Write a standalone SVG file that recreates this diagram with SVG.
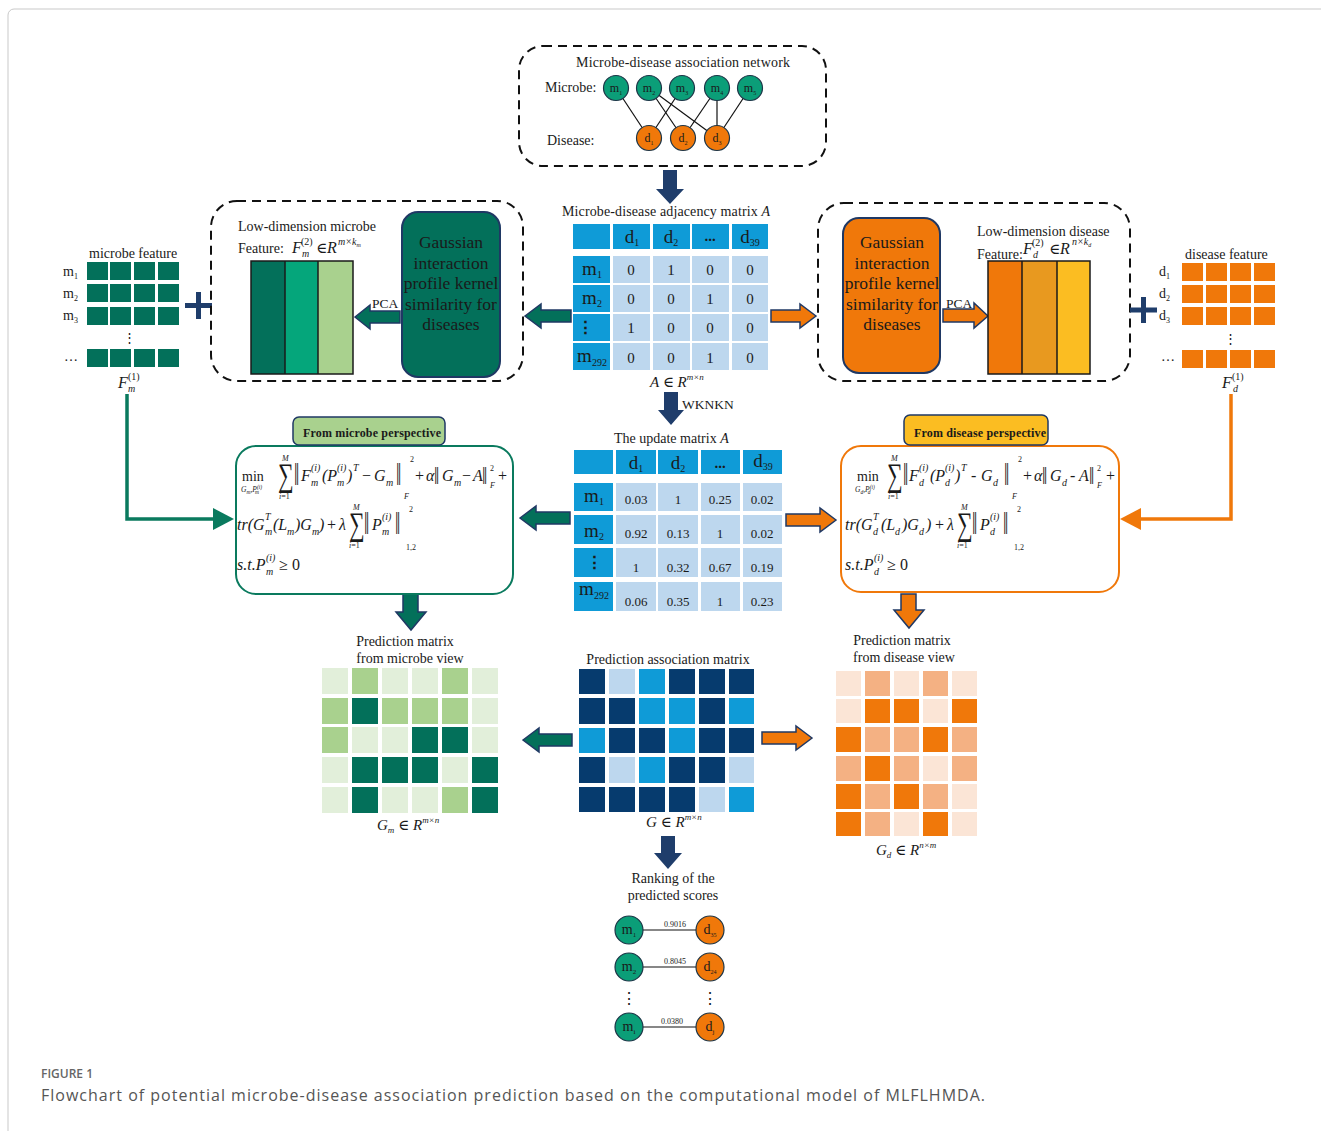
<svg xmlns="http://www.w3.org/2000/svg" width="1321" height="1131" viewBox="0 0 1321 1131">
<defs>
<style>
text{font-family:"Liberation Serif","Times New Roman","DejaVu Serif",serif;fill:#1a1a1a}
.it{font-style:italic}
.dash{fill:none;stroke:#111;stroke-width:2;stroke-dasharray:9 6}
.hb{fill:#0f9bd7}
.lb{fill:#bdd7ee}
.nv{fill:#063b6e}
.navy{fill:#1f3d6b}
.garr{fill:#03705a;stroke:#1f3864;stroke-width:1.5}
.oarr{fill:#f0780a;stroke:#1f3864;stroke-width:1.5}
.mc{fill:#0b9e78;stroke:#1d3547;stroke-width:1.2}
.dc{fill:#f0780a;stroke:#1d3547;stroke-width:1.2}
.edge{stroke:#111;stroke-width:1.2}
.gD{fill:#03705a}.gM{fill:#a9d18e}.gL{fill:#e2efda}
.oD{fill:#f0780a}.oM{fill:#f4b183}.oL{fill:#fbe5d6}
.fi{font-style:italic;font-size:16px}
.fu{font-size:16px}
.nb{font-size:19px}
.sp{font-style:italic;font-size:10px}
.su{font-style:normal;font-size:10px}
.tiny{font-size:8px}
.val{font-size:15px}
.v2{font-size:13px}
.lbl{font-size:14px}
.sg{font-size:22px}
.nm{font-size:17px}
.cap{font-family:"Open Sans","Noto Sans",sans-serif;fill:#555}
</style>
</defs>
<rect width="1321" height="1131" fill="#fff"/>
<rect x="8" y="9" width="1340" height="1140" rx="6" fill="none" stroke="#c9c9c9" stroke-width="1"/>

<!-- connectors -->
<g id="connectors">
  <!-- association network edges -->
  <line class="edge" x1="616" y1="88" x2="649" y2="138"/>
  <line class="edge" x1="682" y1="88" x2="649" y2="138"/>
  <line class="edge" x1="649" y1="88" x2="683" y2="138"/>
  <line class="edge" x1="649" y1="88" x2="717" y2="138"/>
  <line class="edge" x1="717" y1="88" x2="683" y2="138"/>
  <line class="edge" x1="717" y1="88" x2="717" y2="138"/>
  <line class="edge" x1="750" y1="88" x2="717" y2="138"/>
  <!-- navy down arrows -->
  <path class="navy" d="M663,170 L677,170 L677,189 L684,189 L670,204 L656,189 L663,189 Z"/>
  <path class="navy" d="M664,392 L678,392 L678,410 L684,410 L671,425 L658,410 L664,410 Z"/>
  <path class="navy" d="M661,836 L675,836 L675,853 L682,853 L668,869 L654,853 L661,853 Z"/>
  <!-- block arrows from adjacency matrix -->
  <path class="garr" d="M525,316 L541,304 L541,310 L571,310 L571,322 L541,322 L541,328 Z"/>
  <path class="oarr" d="M816,316 L800,304 L800,310 L771,310 L771,322 L800,322 L800,328 Z"/>
  <!-- PCA arrows -->
  <path class="garr" d="M355,317 L370,305 L370,311 L400,311 L400,323 L370,323 L370,329 Z"/>
  <path class="oarr" d="M988,316 L974,303 L974,309 L943,309 L943,322 L974,322 L974,328 Z"/>
  <!-- arrows from update matrix -->
  <path class="garr" d="M520,518 L536,506 L536,512 L570,512 L570,524 L536,524 L536,530 Z"/>
  <path class="oarr" d="M836,520 L820,508 L820,514 L786,514 L786,526 L820,526 L820,532 Z"/>
  <!-- arrows from prediction association matrix -->
  <path class="garr" d="M523,740 L539,728 L539,734 L572,734 L572,746 L539,746 L539,752 Z"/>
  <path class="oarr" d="M812,738 L796,726 L796,732 L762,732 L762,744 L796,744 L796,750 Z"/>
  <!-- down arrows under the objective boxes -->
  <path class="garr" d="M403,594 L418,594 L418,612 L426,612 L411,630 L396,612 L403,612 Z"/>
  <path class="oarr" d="M901,594 L916,594 L916,610 L924,610 L909,628 L894,610 L901,610 Z"/>
  <!-- feature connectors -->
  <polyline points="127,394 127,519 216,519" fill="none" stroke="#0a7a5e" stroke-width="3.5"/>
  <polygon points="234,519 213,508 213,530" fill="#0a7a5e"/>
  <polyline points="1231,394 1231,519 1138,519" fill="none" stroke="#f0780a" stroke-width="3.5"/>
  <polygon points="1120,519 1141,508 1141,530" fill="#f0780a"/>
  <!-- ranking links -->
  <line class="edge" x1="643" y1="930" x2="696" y2="930"/>
  <line class="edge" x1="643" y1="967" x2="696" y2="967"/>
  <line class="edge" x1="643" y1="1027" x2="696" y2="1027"/>
</g>

<!-- association network -->
<g id="network">
  <rect class="dash" x="519" y="46" width="307" height="120" rx="24"/>
  <text x="576" y="67" class="lbl" textLength="214">Microbe-disease association network</text>
  <text x="545" y="92" class="lbl">Microbe:</text>
  <text x="547" y="145" class="lbl">Disease:</text>
  <g font-size="12" text-anchor="middle">
    <circle class="mc" cx="616" cy="88" r="12.5"/><text x="616" y="92">m<tspan font-size="6" dy="3">1</tspan></text>
    <circle class="mc" cx="649" cy="88" r="12.5"/><text x="649" y="92">m<tspan font-size="6" dy="3">2</tspan></text>
    <circle class="mc" cx="682" cy="88" r="12.5"/><text x="682" y="92">m<tspan font-size="6" dy="3">3</tspan></text>
    <circle class="mc" cx="717" cy="88" r="12.5"/><text x="717" y="92">m<tspan font-size="6" dy="3">4</tspan></text>
    <circle class="mc" cx="750" cy="88" r="12.5"/><text x="750" y="92">m<tspan font-size="6" dy="3">5</tspan></text>
    <circle class="dc" cx="649" cy="138" r="12.5"/><text x="649" y="142">d<tspan font-size="6" dy="3">1</tspan></text>
    <circle class="dc" cx="683" cy="138" r="12.5"/><text x="683" y="142">d<tspan font-size="6" dy="3">2</tspan></text>
    <circle class="dc" cx="717" cy="138" r="12.5"/><text x="717" y="142">d<tspan font-size="6" dy="3">3</tspan></text>
  </g>
</g>

<!-- adjacency matrix -->
<g id="adjacency-matrix">
  <text x="562" y="216" class="lbl" textLength="208">Microbe-disease adjacency matrix <tspan class="it">A</tspan></text>
  <g class="hb">
    <rect x="573" y="224" width="37" height="25"/><rect x="613" y="224" width="37" height="25"/>
    <rect x="653" y="224" width="37" height="25"/><rect x="692" y="224" width="37" height="25"/>
    <rect x="732" y="224" width="36" height="25"/>
    <rect x="573" y="256" width="37" height="27"/><rect x="573" y="285" width="37" height="27"/>
    <rect x="573" y="314" width="37" height="27"/><rect x="573" y="343" width="37" height="27"/>
  </g>
  <g class="lb">
    <rect x="613" y="256" width="37" height="27"/><rect x="653" y="256" width="37" height="27"/><rect x="692" y="256" width="37" height="27"/><rect x="732" y="256" width="36" height="27"/>
    <rect x="613" y="285" width="37" height="27"/><rect x="653" y="285" width="37" height="27"/><rect x="692" y="285" width="37" height="27"/><rect x="732" y="285" width="36" height="27"/>
    <rect x="613" y="314" width="37" height="27"/><rect x="653" y="314" width="37" height="27"/><rect x="692" y="314" width="37" height="27"/><rect x="732" y="314" width="36" height="27"/>
    <rect x="613" y="343" width="37" height="27"/><rect x="653" y="343" width="37" height="27"/><rect x="692" y="343" width="37" height="27"/><rect x="732" y="343" width="36" height="27"/>
  </g>
  <g class="nb" text-anchor="middle">
    <text x="632" y="243">d<tspan font-size="10" dy="3">1</tspan></text>
    <text x="671" y="243">d<tspan font-size="10" dy="3">2</tspan></text>
    <text x="710" y="241" font-weight="bold" font-size="15">...</text>
    <text x="750" y="243">d<tspan font-size="10" dy="3">39</tspan></text>
    <text x="592" y="275">m<tspan font-size="10" dy="3">1</tspan></text>
    <text x="592" y="304">m<tspan font-size="10" dy="3">2</tspan></text>
    <text x="585" y="333" font-weight="bold" font-size="17">⋮</text>
    <text x="592" y="362">m<tspan font-size="10" dy="4">292</tspan></text>
  </g>
  <g class="val" text-anchor="middle">
    <text x="631" y="275">0</text><text x="671" y="275">1</text><text x="710" y="275">0</text><text x="750" y="275">0</text>
    <text x="631" y="304">0</text><text x="671" y="304">0</text><text x="710" y="304">1</text><text x="750" y="304">0</text>
    <text x="631" y="333">1</text><text x="671" y="333">0</text><text x="710" y="333">0</text><text x="750" y="333">0</text>
    <text x="631" y="363">0</text><text x="671" y="363">0</text><text x="710" y="363">1</text><text x="750" y="363">0</text>
  </g>
  <text x="650" y="387" class="it" font-size="15">A <tspan font-style="normal">∈</tspan> R<tspan font-size="9" dy="-7">m×n</tspan></text>
  <text x="682" y="409" font-size="13.5">WKNKN</text>
</g>

<!-- updated matrix -->
<g id="update-matrix">
  <text x="614" y="443" class="lbl">The update matrix <tspan class="it">A</tspan></text>
  <g class="hb">
    <rect x="574" y="450" width="39" height="24"/><rect x="616" y="450" width="40" height="24"/>
    <rect x="658" y="450" width="40" height="24"/><rect x="701" y="450" width="39" height="24"/>
    <rect x="743" y="450" width="39" height="24"/>
    <rect x="574" y="483" width="39" height="28"/><rect x="574" y="515" width="39" height="29"/>
    <rect x="574" y="548" width="39" height="29"/><rect x="574" y="582" width="39" height="29"/>
  </g>
  <g class="lb">
    <rect x="616" y="483" width="40" height="28"/><rect x="658" y="483" width="40" height="28"/><rect x="701" y="483" width="39" height="28"/><rect x="743" y="483" width="39" height="28"/>
    <rect x="616" y="515" width="40" height="29"/><rect x="658" y="515" width="40" height="29"/><rect x="701" y="515" width="39" height="29"/><rect x="743" y="515" width="39" height="29"/>
    <rect x="616" y="548" width="40" height="29"/><rect x="658" y="548" width="40" height="29"/><rect x="701" y="548" width="39" height="29"/><rect x="743" y="548" width="39" height="29"/>
    <rect x="616" y="582" width="40" height="29"/><rect x="658" y="582" width="40" height="29"/><rect x="701" y="582" width="39" height="29"/><rect x="743" y="582" width="39" height="29"/>
  </g>
  <g class="nb" text-anchor="middle">
    <text x="636" y="469">d<tspan font-size="10" dy="3">1</tspan></text>
    <text x="678" y="469">d<tspan font-size="10" dy="3">2</tspan></text>
    <text x="720" y="468" font-weight="bold" font-size="15">...</text>
    <text x="763" y="467">d<tspan font-size="10" dy="3">39</tspan></text>
    <text x="594" y="502">m<tspan font-size="10" dy="3">1</tspan></text>
    <text x="594" y="537">m<tspan font-size="10" dy="3">2</tspan></text>
    <text x="594" y="568" font-weight="bold" font-size="17">⋮</text>
    <text x="594" y="595">m<tspan font-size="10" dy="4">292</tspan></text>
  </g>
  <g class="v2" text-anchor="middle">
    <text x="636" y="504">0.03</text><text x="678" y="504">1</text><text x="720" y="504">0.25</text><text x="762" y="504">0.02</text>
    <text x="636" y="538">0.92</text><text x="678" y="538">0.13</text><text x="720" y="538">1</text><text x="762" y="538">0.02</text>
    <text x="636" y="572">1</text><text x="678" y="572">0.32</text><text x="720" y="572">0.67</text><text x="762" y="572">0.19</text>
    <text x="636" y="606">0.06</text><text x="678" y="606">0.35</text><text x="720" y="606">1</text><text x="762" y="606">0.23</text>
  </g>
</g>

<!-- microbe side: raw features and low-dimension features -->
<g id="microbe-feature">
  <text x="89" y="258" class="lbl">microbe feature</text>
  <g class="gD">
    <rect x="87" y="262" width="21" height="18"/><rect x="110" y="262" width="21" height="18"/><rect x="134" y="262" width="21" height="18"/><rect x="158" y="262" width="21" height="18"/>
    <rect x="87" y="284" width="21" height="18"/><rect x="110" y="284" width="21" height="18"/><rect x="134" y="284" width="21" height="18"/><rect x="158" y="284" width="21" height="18"/>
    <rect x="87" y="307" width="21" height="18"/><rect x="110" y="307" width="21" height="18"/><rect x="134" y="307" width="21" height="18"/><rect x="158" y="307" width="21" height="18"/>
    <rect x="87" y="349" width="21" height="18"/><rect x="110" y="349" width="21" height="18"/><rect x="134" y="349" width="21" height="18"/><rect x="158" y="349" width="21" height="18"/>
  </g>
  <g class="lbl">
    <text x="63" y="276">m<tspan font-size="8" dy="3">1</tspan></text>
    <text x="63" y="298">m<tspan font-size="8" dy="3">2</tspan></text>
    <text x="63" y="320">m<tspan font-size="8" dy="3">3</tspan></text>
    <text x="64" y="361">…</text>
    <text x="129" y="342" text-anchor="middle" font-size="13">⋮</text>
  </g>
  <text x="118" y="388" class="fi">F</text>
  <text x="128" y="380" class="su">(1)</text>
  <text x="128" y="392" class="sp">m</text>
  <path d="M185,305.5 H212 M198.5,292 V319" stroke="#1f3d6b" stroke-width="5"/>
</g>

<g id="microbe-low-dim">
  <rect class="dash" x="211" y="201" width="312" height="180" rx="26"/>
  <text x="238" y="231" class="lbl">Low-dimension microbe</text>
  <text x="238" y="253" class="lbl">Feature:</text>
  <text x="292" y="253" class="fi">F</text>
  <text x="301" y="245" class="su">(2)</text>
  <text x="302" y="257" class="sp">m</text>
  <text x="316" y="253" font-size="15">∈</text>
  <text x="327" y="253" class="fi">R</text>
  <text x="338" y="245" class="sp">m×k<tspan font-size="6" dy="2">m</tspan></text>
  <rect x="251" y="261" width="34" height="113" class="gD"/>
  <rect x="285" y="261" width="33" height="113" fill="#05a67b"/>
  <rect x="318" y="261" width="35" height="113" class="gM"/>
  <rect x="251" y="261" width="102" height="113" fill="none" stroke="#1a1a1a" stroke-width="1.5"/>
  <line x1="285" y1="261" x2="285" y2="374" stroke="#1a1a1a" stroke-width="1.5"/>
  <line x1="318" y1="261" x2="318" y2="374" stroke="#1a1a1a" stroke-width="1.5"/>
  <text x="372" y="308" font-size="13.5">PCA</text>
</g>

<g id="microbe-gip">
  <rect x="402" y="212" width="98" height="165" rx="16" fill="#03705a" stroke="#1f3864" stroke-width="2"/>
  <g font-size="17.5" text-anchor="middle">
    <text x="451" y="248">Gaussian</text>
    <text x="451" y="268.5">interaction</text>
    <text x="451" y="289">profile kernel</text>
    <text x="451" y="309.5">similarity for</text>
    <text x="451" y="330">diseases</text>
  </g>
</g>

<!-- disease side -->
<g id="disease-gip">
  <rect x="843" y="218" width="97" height="155" rx="16" fill="#f0780a" stroke="#1f3864" stroke-width="2"/>
  <g font-size="17.5" text-anchor="middle">
    <text x="892" y="248">Gaussian</text>
    <text x="892" y="268.5">interaction</text>
    <text x="892" y="289">profile kernel</text>
    <text x="892" y="309.5">similarity for</text>
    <text x="892" y="330">diseases</text>
  </g>
</g>

<g id="disease-low-dim">
  <rect class="dash" x="818" y="203" width="312" height="178" rx="26"/>
  <text x="977" y="236" class="lbl">Low-dimension disease</text>
  <text x="977" y="259" class="lbl">Feature:</text>
  <text x="1023" y="254" class="fi">F</text>
  <text x="1032" y="246" class="su">(2)</text>
  <text x="1033" y="258" class="sp">d</text>
  <text x="1049" y="254" font-size="15">∈</text>
  <text x="1060" y="254" class="fi">R</text>
  <text x="1072" y="245" class="sp">n×k<tspan font-size="6" dy="2">d</tspan></text>
  <rect x="988" y="261" width="34" height="113" class="oD"/>
  <rect x="1022" y="261" width="35" height="113" fill="#e8991f"/>
  <rect x="1057" y="261" width="33" height="113" fill="#fbbd22"/>
  <rect x="988" y="261" width="102" height="113" fill="none" stroke="#1a1a1a" stroke-width="1.5"/>
  <line x1="1022" y1="261" x2="1022" y2="374" stroke="#1a1a1a" stroke-width="1.5"/>
  <line x1="1057" y1="261" x2="1057" y2="374" stroke="#1a1a1a" stroke-width="1.5"/>
  <text x="946" y="308" font-size="13.5">PCA</text>
</g>

<g id="disease-feature">
  <text x="1185" y="259" class="lbl">disease feature</text>
  <g class="oD">
    <rect x="1182" y="263" width="21" height="18"/><rect x="1206" y="263" width="21" height="18"/><rect x="1230" y="263" width="21" height="18"/><rect x="1254" y="263" width="21" height="18"/>
    <rect x="1182" y="285" width="21" height="18"/><rect x="1206" y="285" width="21" height="18"/><rect x="1230" y="285" width="21" height="18"/><rect x="1254" y="285" width="21" height="18"/>
    <rect x="1182" y="307" width="21" height="18"/><rect x="1206" y="307" width="21" height="18"/><rect x="1230" y="307" width="21" height="18"/><rect x="1254" y="307" width="21" height="18"/>
    <rect x="1182" y="350" width="21" height="18"/><rect x="1206" y="350" width="21" height="18"/><rect x="1230" y="350" width="21" height="18"/><rect x="1254" y="350" width="21" height="18"/>
  </g>
  <g class="lbl">
    <text x="1159" y="276">d<tspan font-size="8" dy="3">1</tspan></text>
    <text x="1159" y="298">d<tspan font-size="8" dy="3">2</tspan></text>
    <text x="1159" y="320">d<tspan font-size="8" dy="3">3</tspan></text>
    <text x="1161" y="361">…</text>
    <text x="1230" y="343" text-anchor="middle" font-size="13">⋮</text>
  </g>
  <text x="1222" y="388" class="fi">F</text>
  <text x="1232" y="380" class="su">(1)</text>
  <text x="1233" y="392" class="sp">d</text>
  <path d="M1130,310 H1157 M1143.5,297 V323" stroke="#1f3d6b" stroke-width="5"/>
</g>

<!-- microbe-view objective -->
<g id="microbe-objective">
  <rect x="236" y="446" width="277" height="148" rx="20" fill="#fff" stroke="#0a7a5e" stroke-width="2"/>
  <rect x="293" y="417" width="152" height="28" rx="6" fill="#a9d18e" stroke="#1f3864" stroke-width="1.5"/>
  <text x="303" y="437" font-size="12" font-weight="bold" textLength="138">From microbe perspective</text>
  <text x="242" y="481" font-size="14">min</text>
  <text x="241" y="492" font-size="7.5" class="it">G<tspan font-size="5.5" dy="1.5">m</tspan><tspan dy="-1.5">,P</tspan><tspan font-size="5.5" dy="-3">(i)</tspan><tspan font-size="5.5" dx="-7" dy="5">m</tspan></text>
  <text class="sg" transform="translate(278,486) scale(1,1.5)">∑</text>
  <text x="282" y="461" class="tiny it">M</text>
  <text x="279" y="499" class="tiny"><tspan class="it">i</tspan>=1</text>
  <text class="nm" transform="translate(294,485) scale(1.1,1.8)">‖</text>
  <text x="301" y="481" class="fi">F</text>
  <text x="311" y="471" class="sp">(i)</text><text x="311" y="486" class="sp">m</text>
  <text x="322" y="481" class="fi">(P</text>
  <text x="337" y="471" class="sp">(i)</text><text x="337" y="486" class="sp">m</text>
  <text x="347" y="481" class="fi">)</text>
  <text x="353" y="471" class="sp">T</text>
  <text x="362" y="481" class="fu">−</text>
  <text x="374" y="481" class="fi">G</text>
  <text x="386" y="486" class="sp">m</text>
  <text class="nm" transform="translate(396,485) scale(1.1,1.8)">‖</text>
  <text x="410" y="462" class="tiny">2</text>
  <text x="404" y="499" class="tiny it">F</text>
  <text x="415" y="481" class="fu">+</text>
  <text x="426" y="481" class="fi">α</text>
  <text class="nm" transform="translate(434,484) scale(1.1,1.45)">‖</text>
  <text x="442" y="481" class="fi">G</text>
  <text x="454" y="486" class="sp">m</text>
  <text x="462" y="481" class="fu">−</text>
  <text x="473" y="481" class="fi">A</text>
  <text class="nm" transform="translate(482,484) scale(1.1,1.45)">‖</text>
  <text x="490" y="471" class="tiny">2</text>
  <text x="490" y="488" class="tiny it">F</text>
  <text x="498" y="481" class="fu">+</text>

  <text x="237" y="530" class="fi">tr(G</text>
  <text x="265" y="520" class="sp">T</text><text x="265" y="535" class="sp">m</text>
  <text x="273" y="530" class="fi">(L</text>
  <text x="287" y="535" class="sp">m</text>
  <text x="295" y="530" class="fi">)G</text>
  <text x="312" y="535" class="sp">m</text>
  <text x="319" y="530" class="fi">)</text>
  <text x="327" y="530" class="fu">+</text>
  <text x="339" y="530" class="fi">λ</text>
  <text class="sg" transform="translate(349,535) scale(1,1.5)">∑</text>
  <text x="353" y="510" class="tiny it">M</text>
  <text x="349" y="548" class="tiny"><tspan class="it">i</tspan>=1</text>
  <text class="nm" transform="translate(364,534) scale(1.1,1.8)">‖</text>
  <text x="372" y="530" class="fi">P</text>
  <text x="382" y="520" class="sp">(i)</text><text x="382" y="535" class="sp">m</text>
  <text class="nm" transform="translate(395,534) scale(1.1,1.8)">‖</text>
  <text x="409" y="512" class="tiny">2</text>
  <text x="406" y="550" class="tiny">1,2</text>

  <text x="237" y="570" class="fi">s.t.P</text>
  <text x="266" y="561" class="sp">(i)</text><text x="266" y="575" class="sp">m</text>
  <text x="279" y="570" class="fu">≥</text>
  <text x="292" y="570" class="fu">0</text>
</g>

<!-- disease-view objective -->
<g id="disease-objective">
  <rect x="841" y="446" width="278" height="146" rx="20" fill="#fff" stroke="#f0780a" stroke-width="2"/>
  <rect x="904" y="415" width="144" height="30" rx="6" fill="#fbbd22" stroke="#1f3864" stroke-width="1.5"/>
  <text x="914" y="437" font-size="12" font-weight="bold" textLength="132">From disease perspective</text>
  <text x="857" y="481" font-size="14">min</text>
  <text x="855" y="492" font-size="7.5" class="it">G<tspan font-size="5.5" dy="1.5">d</tspan><tspan dy="-1.5">,P</tspan><tspan font-size="5.5" dy="-3">(i)</tspan><tspan font-size="5.5" dx="-7" dy="5">d</tspan></text>
  <g transform="translate(608,0)">
    <text class="sg" transform="translate(279,486) scale(1,1.5)">∑</text>
    <text x="283" y="461" class="tiny it">M</text>
    <text x="280" y="499" class="tiny"><tspan class="it">i</tspan>=1</text>
    <text class="nm" transform="translate(295,485) scale(1.1,1.8)">‖</text>
    <text x="301" y="481" class="fi">F</text>
    <text x="311" y="471" class="sp">(i)</text><text x="311" y="486" class="sp">d</text>
    <text x="322" y="481" class="fi">(P</text>
    <text x="337" y="471" class="sp">(i)</text><text x="337" y="486" class="sp">d</text>
    <text x="347" y="481" class="fi">)</text>
    <text x="353" y="471" class="sp">T</text>
    <text x="363" y="481" class="fu">-</text>
    <text x="373" y="481" class="fi">G</text>
    <text x="385" y="486" class="sp">d</text>
    <text class="nm" transform="translate(396,485) scale(1.1,1.8)">‖</text>
    <text x="410" y="462" class="tiny">2</text>
    <text x="404" y="499" class="tiny it">F</text>
    <text x="415" y="481" class="fu">+</text>
    <text x="426" y="481" class="fi">α</text>
    <text class="nm" transform="translate(434,484) scale(1.1,1.45)">‖</text>
    <text x="442" y="481" class="fi">G</text>
    <text x="454" y="486" class="sp">d</text>
    <text x="462" y="481" class="fu">-</text>
    <text x="471" y="481" class="fi">A</text>
    <text class="nm" transform="translate(481,484) scale(1.1,1.45)">‖</text>
    <text x="489" y="471" class="tiny">2</text>
    <text x="489" y="488" class="tiny it">F</text>
    <text x="498" y="481" class="fu">+</text>

    <text x="237" y="530" class="fi">tr(G</text>
    <text x="265" y="520" class="sp">T</text><text x="265" y="535" class="sp">d</text>
    <text x="273" y="530" class="fi">(L</text>
    <text x="287" y="535" class="sp">d</text>
    <text x="294" y="530" class="fi">)G</text>
    <text x="311" y="535" class="sp">d</text>
    <text x="318" y="530" class="fi">)</text>
    <text x="327" y="530" class="fu">+</text>
    <text x="339" y="530" class="fi">λ</text>
    <text class="sg" transform="translate(349,535) scale(1,1.5)">∑</text>
    <text x="353" y="510" class="tiny it">M</text>
    <text x="349" y="548" class="tiny"><tspan class="it">i</tspan>=1</text>
    <text class="nm" transform="translate(364,534) scale(1.1,1.8)">‖</text>
    <text x="372" y="530" class="fi">P</text>
    <text x="382" y="520" class="sp">(i)</text><text x="382" y="535" class="sp">d</text>
    <text class="nm" transform="translate(395,534) scale(1.1,1.8)">‖</text>
    <text x="409" y="512" class="tiny">2</text>
    <text x="406" y="550" class="tiny">1,2</text>

    <text x="237" y="570" class="fi">s.t.P</text>
    <text x="266" y="561" class="sp">(i)</text><text x="266" y="575" class="sp">d</text>
    <text x="279" y="570" class="fu">≥</text>
    <text x="292" y="570" class="fu">0</text>
  </g>
</g>

<!-- prediction matrix, microbe view -->
<g id="prediction-microbe">
  <text x="405" y="646" class="lbl" text-anchor="middle">Prediction matrix</text>
  <text x="410" y="663" class="lbl" text-anchor="middle">from microbe view</text>
  <rect class="gL" x="322" y="668" width="26" height="26"/><rect class="gM" x="352" y="668" width="26" height="26"/><rect class="gL" x="382" y="668" width="26" height="26"/><rect class="gL" x="412" y="668" width="26" height="26"/><rect class="gM" x="442" y="668" width="26" height="26"/><rect class="gL" x="472" y="668" width="26" height="26"/>
  <rect class="gM" x="322" y="698" width="26" height="26"/><rect class="gD" x="352" y="698" width="26" height="26"/><rect class="gM" x="382" y="698" width="26" height="26"/><rect class="gM" x="412" y="698" width="26" height="26"/><rect class="gM" x="442" y="698" width="26" height="26"/><rect class="gL" x="472" y="698" width="26" height="26"/>
  <rect class="gM" x="322" y="727" width="26" height="26"/><rect class="gL" x="352" y="727" width="26" height="26"/><rect class="gL" x="382" y="727" width="26" height="26"/><rect class="gD" x="412" y="727" width="26" height="26"/><rect class="gD" x="442" y="727" width="26" height="26"/><rect class="gL" x="472" y="727" width="26" height="26"/>
  <rect class="gL" x="322" y="757" width="26" height="26"/><rect class="gD" x="352" y="757" width="26" height="26"/><rect class="gD" x="382" y="757" width="26" height="26"/><rect class="gD" x="412" y="757" width="26" height="26"/><rect class="gL" x="442" y="757" width="26" height="26"/><rect class="gD" x="472" y="757" width="26" height="26"/>
  <rect class="gL" x="322" y="787" width="26" height="26"/><rect class="gD" x="352" y="787" width="26" height="26"/><rect class="gL" x="382" y="787" width="26" height="26"/><rect class="gL" x="412" y="787" width="26" height="26"/><rect class="gM" x="442" y="787" width="26" height="26"/><rect class="gD" x="472" y="787" width="26" height="26"/>
  <text x="377" y="830" class="it" font-size="15">G<tspan font-size="9" dy="3">m</tspan><tspan font-style="normal" dy="-3"> ∈ </tspan>R<tspan font-size="9" dy="-7">m×n</tspan></text>
</g>

<!-- prediction association matrix -->
<g id="prediction-association">
  <text x="668" y="664" class="lbl" text-anchor="middle">Prediction association matrix</text>
  <rect class="nv" x="579" y="669" width="26" height="25"/><rect class="lb" x="609" y="669" width="26" height="25"/><rect class="hb" x="639" y="669" width="26" height="25"/><rect class="nv" x="669" y="669" width="26" height="25"/><rect class="nv" x="699" y="669" width="26" height="25"/><rect class="nv" x="729" y="669" width="25" height="25"/>
  <rect class="nv" x="579" y="698" width="26" height="26"/><rect class="nv" x="609" y="698" width="26" height="26"/><rect class="hb" x="639" y="698" width="26" height="26"/><rect class="hb" x="669" y="698" width="26" height="26"/><rect class="nv" x="699" y="698" width="26" height="26"/><rect class="hb" x="729" y="698" width="25" height="26"/>
  <rect class="hb" x="579" y="728" width="26" height="25"/><rect class="nv" x="609" y="728" width="26" height="25"/><rect class="nv" x="639" y="728" width="26" height="25"/><rect class="hb" x="669" y="728" width="26" height="25"/><rect class="nv" x="699" y="728" width="26" height="25"/><rect class="nv" x="729" y="728" width="25" height="25"/>
  <rect class="nv" x="579" y="757" width="26" height="26"/><rect class="lb" x="609" y="757" width="26" height="26"/><rect class="hb" x="639" y="757" width="26" height="26"/><rect class="nv" x="669" y="757" width="26" height="26"/><rect class="nv" x="699" y="757" width="26" height="26"/><rect class="lb" x="729" y="757" width="25" height="26"/>
  <rect class="nv" x="579" y="787" width="26" height="25"/><rect class="nv" x="609" y="787" width="26" height="25"/><rect class="nv" x="639" y="787" width="26" height="25"/><rect class="nv" x="669" y="787" width="26" height="25"/><rect class="lb" x="699" y="787" width="26" height="25"/><rect class="hb" x="729" y="787" width="25" height="25"/>
  <text x="646" y="827" class="it" font-size="15">G<tspan font-style="normal"> ∈ </tspan>R<tspan font-size="9" dy="-7">m×n</tspan></text>
</g>

<!-- prediction matrix, disease view -->
<g id="prediction-disease">
  <text x="902" y="645" class="lbl" text-anchor="middle">Prediction matrix</text>
  <text x="904" y="662" class="lbl" text-anchor="middle">from disease view</text>
  <rect class="oL" x="836" y="671" width="25" height="25"/><rect class="oM" x="865" y="671" width="25" height="25"/><rect class="oL" x="894" y="671" width="25" height="25"/><rect class="oM" x="923" y="671" width="25" height="25"/><rect class="oL" x="952" y="671" width="25" height="25"/>
  <rect class="oL" x="836" y="699" width="25" height="24"/><rect class="oD" x="865" y="699" width="25" height="24"/><rect class="oD" x="894" y="699" width="25" height="24"/><rect class="oL" x="923" y="699" width="25" height="24"/><rect class="oD" x="952" y="699" width="25" height="24"/>
  <rect class="oD" x="836" y="727" width="25" height="25"/><rect class="oM" x="865" y="727" width="25" height="25"/><rect class="oM" x="894" y="727" width="25" height="25"/><rect class="oD" x="923" y="727" width="25" height="25"/><rect class="oM" x="952" y="727" width="25" height="25"/>
  <rect class="oM" x="836" y="756" width="25" height="25"/><rect class="oD" x="865" y="756" width="25" height="25"/><rect class="oM" x="894" y="756" width="25" height="25"/><rect class="oL" x="923" y="756" width="25" height="25"/><rect class="oM" x="952" y="756" width="25" height="25"/>
  <rect class="oD" x="836" y="784" width="25" height="25"/><rect class="oM" x="865" y="784" width="25" height="25"/><rect class="oD" x="894" y="784" width="25" height="25"/><rect class="oM" x="923" y="784" width="25" height="25"/><rect class="oL" x="952" y="784" width="25" height="25"/>
  <rect class="oD" x="836" y="812" width="25" height="24"/><rect class="oM" x="865" y="812" width="25" height="24"/><rect class="oL" x="894" y="812" width="25" height="24"/><rect class="oD" x="923" y="812" width="25" height="24"/><rect class="oL" x="952" y="812" width="25" height="24"/>
  <text x="876" y="855" class="it" font-size="15">G<tspan font-size="9" dy="3">d</tspan><tspan font-style="normal" dy="-3"> ∈ </tspan>R<tspan font-size="9" dy="-7">n×m</tspan></text>
</g>

<!-- ranking of predicted scores -->
<g id="ranking">
  <text x="673" y="883" class="lbl" text-anchor="middle">Ranking of the</text>
  <text x="673" y="900" class="lbl" text-anchor="middle">predicted scores</text>
  <g font-size="14" text-anchor="middle">
    <circle class="mc" cx="629" cy="930" r="14"/><text x="629" y="934">m<tspan font-size="7" dy="3">1</tspan></text>
    <circle class="dc" cx="710" cy="930" r="14"/><text x="710" y="934">d<tspan font-size="6" dy="3">35</tspan></text>
    <circle class="mc" cx="629" cy="967" r="14"/><text x="629" y="971">m<tspan font-size="7" dy="3">2</tspan></text>
    <circle class="dc" cx="710" cy="967" r="14"/><text x="710" y="971">d<tspan font-size="6" dy="3">24</tspan></text>
    <circle class="mc" cx="629" cy="1027" r="14"/><text x="629" y="1031">m<tspan font-size="7" dy="3">i</tspan></text>
    <circle class="dc" cx="710" cy="1027" r="14"/><text x="710" y="1031">d<tspan font-size="7" dy="3">j</tspan></text>
    <text x="629" y="1004" font-size="16">⋮</text>
    <text x="710" y="1004" font-size="16">⋮</text>
  </g>
  <g font-size="8" text-anchor="middle">
    <text x="675" y="927">0.9016</text>
    <text x="675" y="964">0.8045</text>
    <text x="672" y="1024">0.0380</text>
  </g>
</g>

<!-- caption -->
<g id="caption">
  <text x="41" y="1078" class="cap" font-size="12" font-weight="600" style="fill:#666">FIGURE 1</text>
  <text x="41" y="1101" class="cap" font-size="16" textLength="944">Flowchart of potential microbe-disease association prediction based on the computational model of MLFLHMDA.</text>
</g>
</svg>
